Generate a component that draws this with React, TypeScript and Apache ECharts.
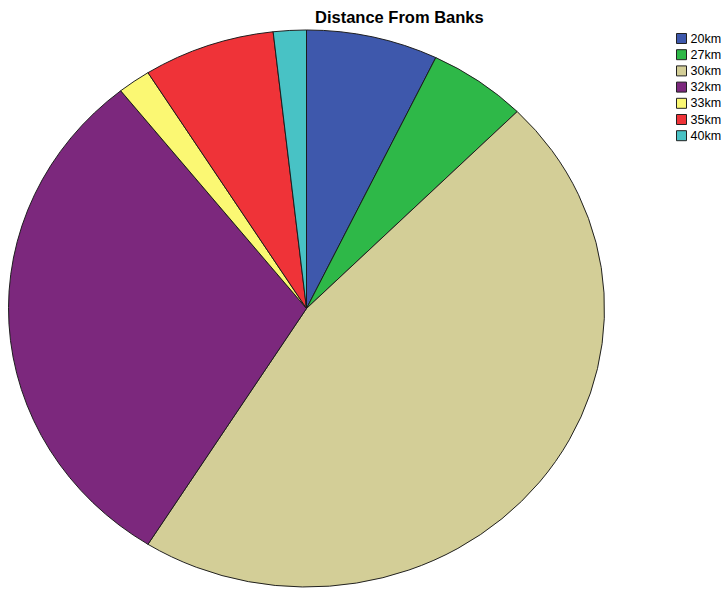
import React, { useEffect, useRef } from "react";
import * as echarts from "echarts";

const categories = ["20km", "27km", "30km", "32km", "33km", "35km", "40km"];
const counts = [4, 3, 26, 17, 1, 4, 1];
const colors = ["#3E58AC", "#2EB848", "#D3CE97", "#7C287D", "#FBF873", "#EF3338", "#48C2C5"];
const titleText = "Distance From Banks";

const SCALE_Y = 278.5 / 298;

export default function App() {
  const pieRef = useRef<HTMLDivElement>(null);
  const overlayRef = useRef<HTMLDivElement>(null);

  useEffect(() => {
    document.body.style.margin = "0";
    const data = categories.map((name, i) => ({
      name,
      value: counts[i],
      itemStyle: { color: colors[i] },
    }));

    const pie = echarts.init(pieRef.current!, undefined, { renderer: "svg" });
    pie.setOption({
      animation: false,
      series: [
        {
          type: "pie",
          center: [306.5, 308.5 / SCALE_Y],
          radius: 298,
          startAngle: 90,
          clockwise: true,
          label: { show: false },
          labelLine: { show: false },
          emphasis: { disabled: true },
          silent: true,
          itemStyle: { borderColor: "#1a1a1a", borderWidth: 1 },
          data,
        },
      ],
    });

    const overlay = echarts.init(overlayRef.current!, undefined, { renderer: "svg" });
    overlay.setOption({
      animation: false,
      title: {
        text: titleText,
        left: 310,
        top: 3,
        textStyle: {
          fontFamily: "Liberation Sans, Arial, sans-serif",
          fontSize: 16.5,
          fontWeight: "bold",
          color: "#000",
        },
      },
      legend: {
        orient: "vertical",
        left: 676,
        top: 32,
        padding: 0,
        itemWidth: 10,
        itemHeight: 10,
        itemGap: 3.2,
        icon: "rect",
        data: categories,
        itemStyle: { borderColor: "#222", borderWidth: 1 },
        textStyle: {
          fontFamily: "Liberation Sans, Arial, sans-serif",
          fontSize: 12.5,
          lineHeight: 10,
          color: "#000",
          padding: [0, 0, 0, -1],
        },
      },
      series: [
        {
          type: "pie",
          center: [-500, -500],
          radius: 0,
          silent: true,
          label: { show: false },
          labelLine: { show: false },
          itemStyle: { borderWidth: 0 },
          data,
        },
      ],
    });

    return () => {
      pie.dispose();
      overlay.dispose();
    };
  }, []);

  return (
    <div style={{ position: "relative", width: 726, height: 590, overflow: "hidden", background: "#fff" }}>
      <div
        ref={pieRef}
        style={{
          position: "absolute",
          left: 0,
          top: 0,
          width: 726,
          height: 640,
          transform: `scaleY(${SCALE_Y})`,
          transformOrigin: "0 0",
        }}
      />
      <div ref={overlayRef} style={{ position: "absolute", left: 0, top: 0, width: 726, height: 590 }} />
    </div>
  );
}
